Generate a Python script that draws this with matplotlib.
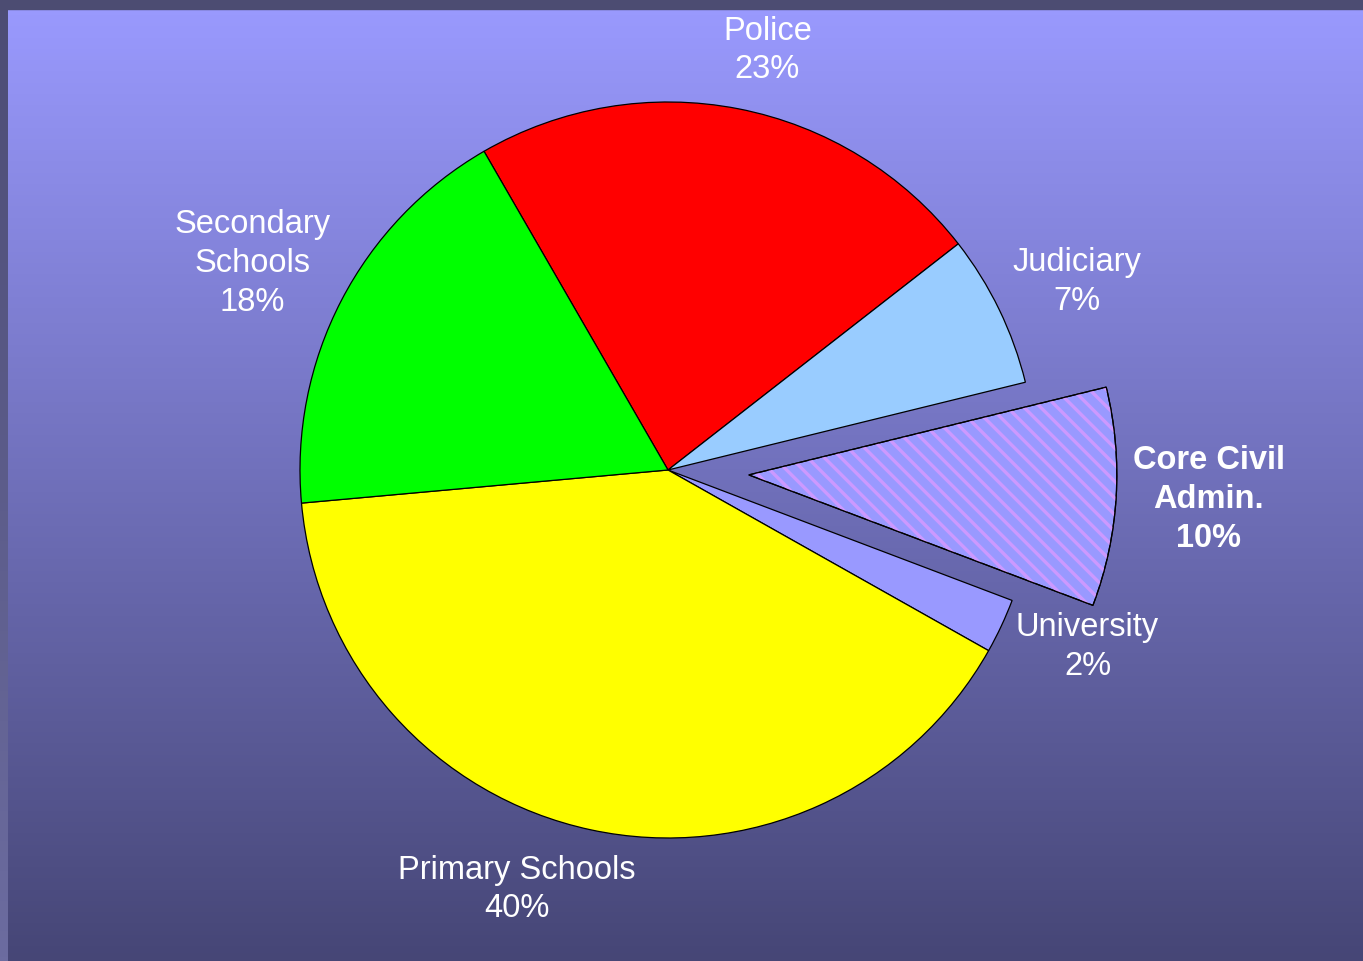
import matplotlib
matplotlib.use("Agg")
import matplotlib.pyplot as plt
from matplotlib.patches import Wedge, Rectangle
import numpy as np

plt.rcParams['font.family'] = ['Liberation Sans', 'DejaVu Sans']
plt.rcParams['hatch.linewidth'] = 2.4

# data, clockwise from the Police slice
categories = ['Police', 'Judiciary', 'Core Civil\nAdmin.', 'University', 'Primary Schools', 'Secondary\nSchools']
values = [22.8, 6.7, 9.6, 2.4, 40.4, 18.1]
colors = ['#FF0000', '#99CCFF', '#9999FF', '#9999FF', '#FFFF00', '#00FF00']
explode = [0, 0, 0.22, 0, 0, 0]
# label positions in pie-radius units (relative to centre)
label_pos = [(0.27, 1.14), (1.11, 0.51), (1.47, -0.08), (1.14, -0.48), (-0.41, -1.14), (-1.13, 0.56)]
bold = [False, False, True, False, False, False]

W, H = 1363, 961
cx, cy, R = 668, 470, 368

fig = plt.figure(figsize=(W / 100, H / 100), dpi=100)

# background gradient
bg = fig.add_axes([0, 0, 1, 1])
top = np.array([0x9A, 0x9A, 0xFF]) / 255
bot = np.array([0x46, 0x46, 0x76]) / 255
t = np.linspace(0, 1, 256)[:, None]
grad = top * (1 - t) + bot * t
bg.imshow(grad[:, None, :], aspect='auto', extent=(0, W, H, 0))
left = np.array([0x4C, 0x4C, 0x74]) / 255 * (1 - t) + np.array([0x6C, 0x6C, 0xA0]) / 255 * t
bg.imshow(left[:, None, :], aspect='auto', extent=(0, 8, H, 0))
bg.add_patch(Rectangle((0, 0), W, 9, color='#4C4C72'))
bg.set_xlim(0, W)
bg.set_ylim(H, 0)
bg.axis('off')

ax = fig.add_axes([0, 0, 1, 1])
ax.patch.set_alpha(0)
wedges, _ = ax.pie(values, colors=colors, explode=explode, startangle=120,
                   counterclock=False, radius=1,
                   wedgeprops=dict(edgecolor='black', linewidth=0.9))

# striped fill of the exploded slice
w = wedges[2]
ax.add_patch(Wedge(w.center, w.r, w.theta1, w.theta2, facecolor='none',
                   edgecolor='#CC99FF', hatch='\\\\', linewidth=0))
ax.add_patch(Wedge(w.center, w.r, w.theta1, w.theta2, facecolor='none',
                   edgecolor='black', linewidth=0.9))

for lab, v, (x, y), b in zip(categories, values, label_pos, bold):
    ax.text(x, y, f"{lab}\n{round(v)}%", ha='center', va='center', color='white',
            fontsize=23.5, fontweight='bold' if b else 'normal', linespacing=1.33)

ax.set_aspect('auto')
ax.set_xlim(-cx / R, (W - cx) / R)
ax.set_ylim(-(H - cy) / R, cy / R)
ax.axis('off')

fig.savefig('out.png', dpi=100)
